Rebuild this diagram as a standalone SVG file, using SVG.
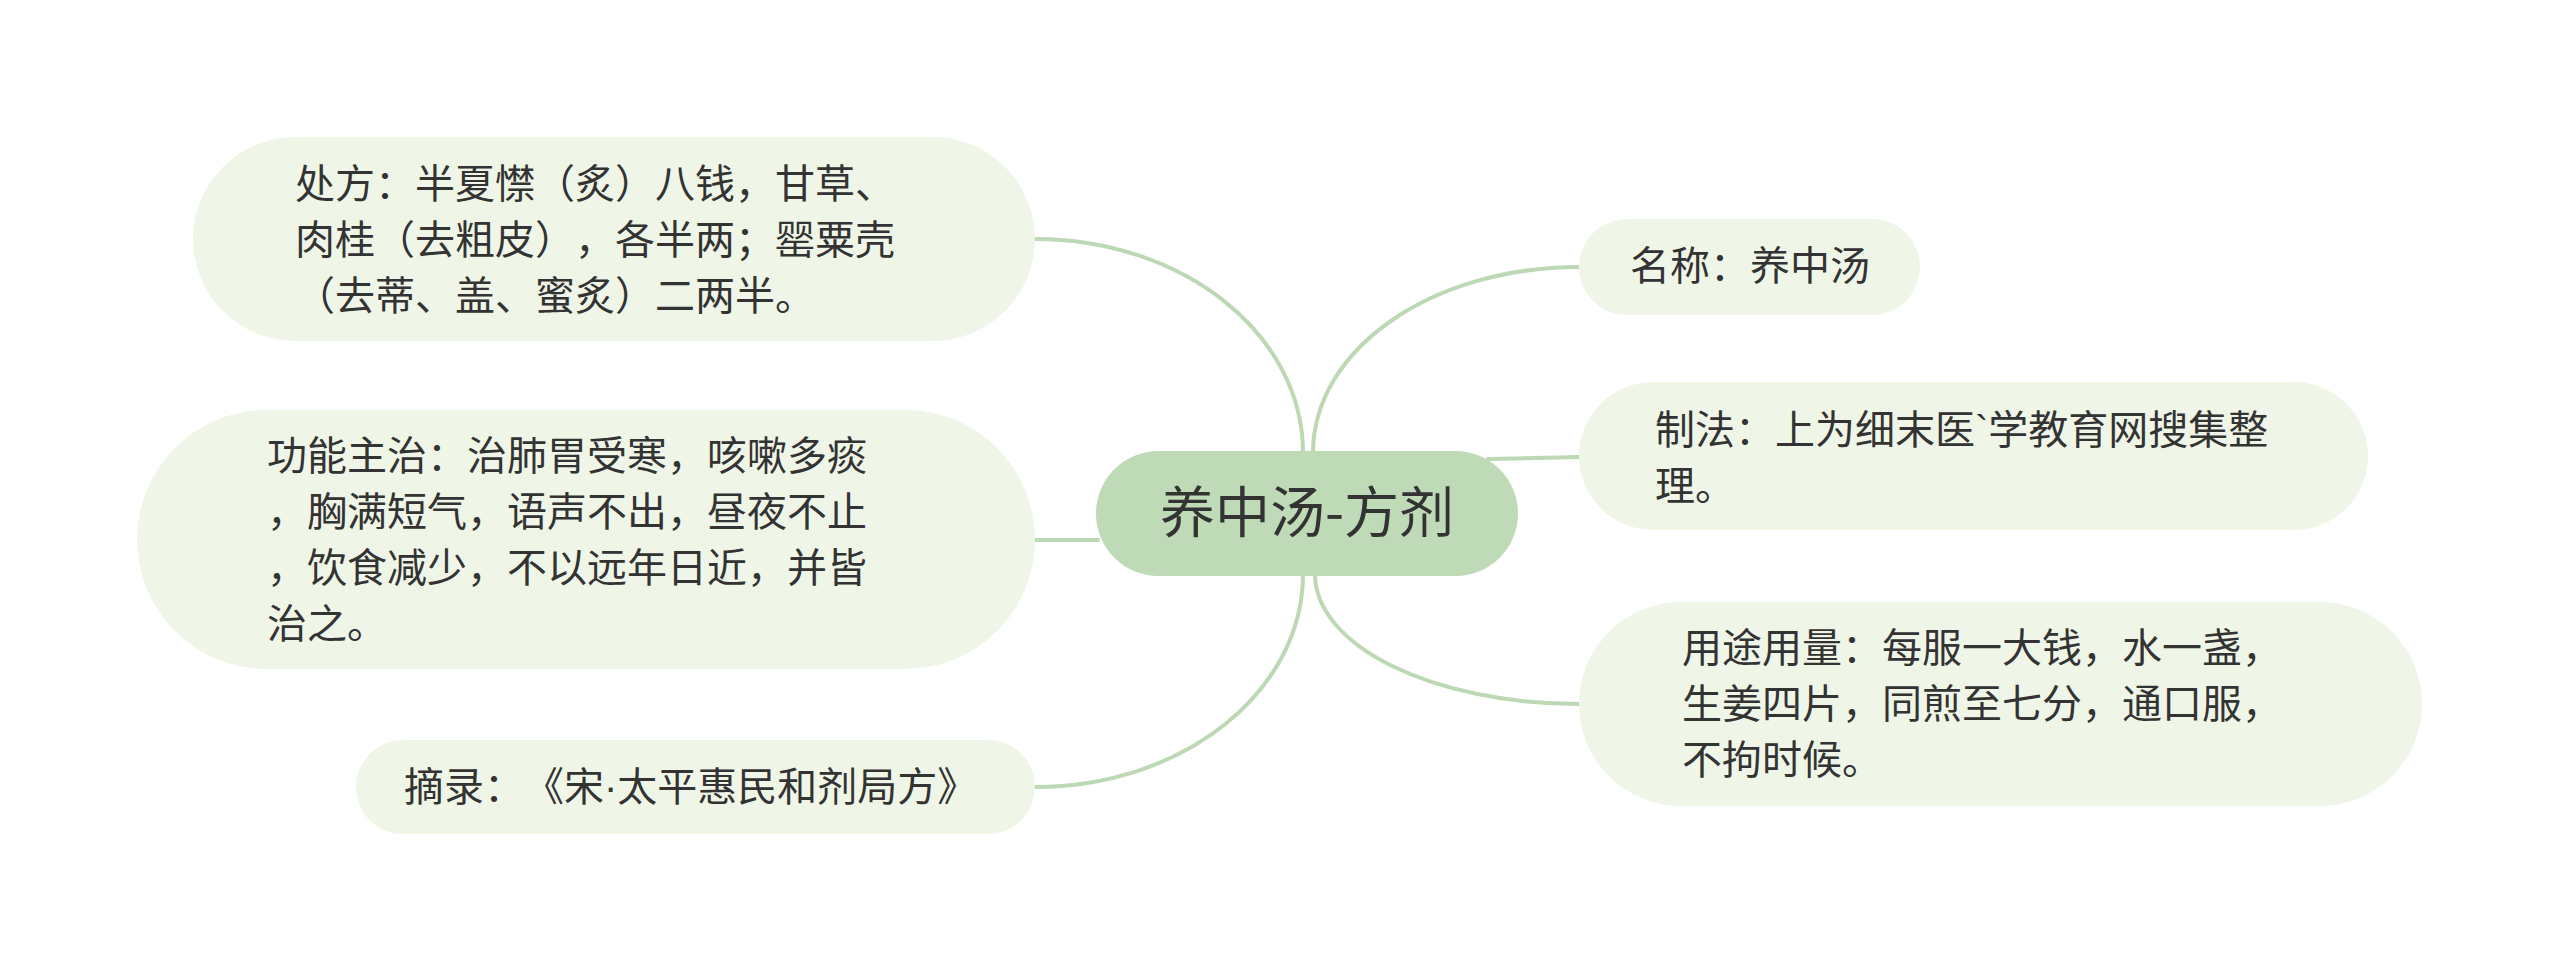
<svg xmlns="http://www.w3.org/2000/svg" width="2560" height="971" viewBox="0 0 2560 971">
<style>
.bg{fill:#ffffff}
.conn{fill:none;stroke:#bcd8b4;stroke-width:4;stroke-linecap:round}
.child{fill:#eff6e7}
.root{fill:#bfdab7}
.t{font-family:"Noto Sans CJK SC","Noto Sans",sans-serif;font-size:40px;fill:#333333;text-spacing-trim:space-all}
.rt{font-family:"Noto Sans CJK SC","Noto Sans",sans-serif;font-size:55px;fill:#333333;text-anchor:middle}
.lat{font-family:"Liberation Sans",sans-serif}
</style>
<rect class="bg" x="0" y="0" width="2560" height="971"/>
<g id="connectors">
<path class="conn" d="M1303,453 C1303,334 1183,239 1035,239"/>
<path class="conn" d="M1098,540 L1035,540"/>
<path class="conn" d="M1303,574 C1303,692 1183,787 1035,787"/>
<path class="conn" d="M1313,453 C1313,349 1432,267 1579,267"/>
<path class="conn" d="M1488,459 L1579,457"/>
<path class="conn" d="M1315,574 C1315,646 1433,704 1579,704"/>
</g>
<g id="root">
<rect class="root" x="1096" y="451" width="422" height="125" rx="62.5"/>
<text class="rt" x="1307" y="532">养中汤-方剂</text>
</g>
<g id="n-chufang">
<rect class="child" x="193" y="137" width="842" height="204" rx="102"/>
<text class="t"><tspan x="295" y="198">处方：半夏㦗（炙）八钱，甘草、</tspan><tspan x="295" y="254">肉桂（去粗皮），各半两；罂粟壳</tspan><tspan x="295" y="310">（去蒂、盖、蜜炙）二两半。</tspan></text>
</g>
<g id="n-gongneng">
<rect class="child" x="137" y="410" width="898" height="259" rx="129.5"/>
<text class="t"><tspan x="267" y="470">功能主治：治肺胃受寒，咳嗽多痰</tspan><tspan x="267" y="526">，胸满短气，语声不出，昼夜不止</tspan><tspan x="267" y="582">，饮食减少，不以远年日近，并皆</tspan><tspan x="267" y="638">治之。</tspan></text>
</g>
<g id="n-zhailu">
<rect class="child" x="356" y="740" width="679" height="94" rx="47"/>
<text class="t" x="404" y="801">摘录：《宋<tspan class="lat">·</tspan>太平惠民和剂局方》</text>
</g>
<g id="n-mingcheng">
<rect class="child" x="1579" y="219" width="341" height="96" rx="48"/>
<text class="t" x="1630" y="280">名称：养中汤</text>
</g>
<g id="n-zhifa">
<rect class="child" x="1579" y="382" width="789" height="148" rx="74"/>
<text class="t"><tspan x="1655" y="444">制法：上为细末医<tspan class="lat">`</tspan>学教育网搜集整</tspan><tspan x="1655" y="500">理。</tspan></text>
</g>
<g id="n-yongtu">
<rect class="child" x="1579" y="602" width="843" height="204" rx="102"/>
<text class="t"><tspan x="1682" y="662">用途用量：每服一大钱，水一盏，</tspan><tspan x="1682" y="718">生姜四片，同煎至七分，通口服，</tspan><tspan x="1682" y="774">不拘时候。</tspan></text>
</g>
</svg>
